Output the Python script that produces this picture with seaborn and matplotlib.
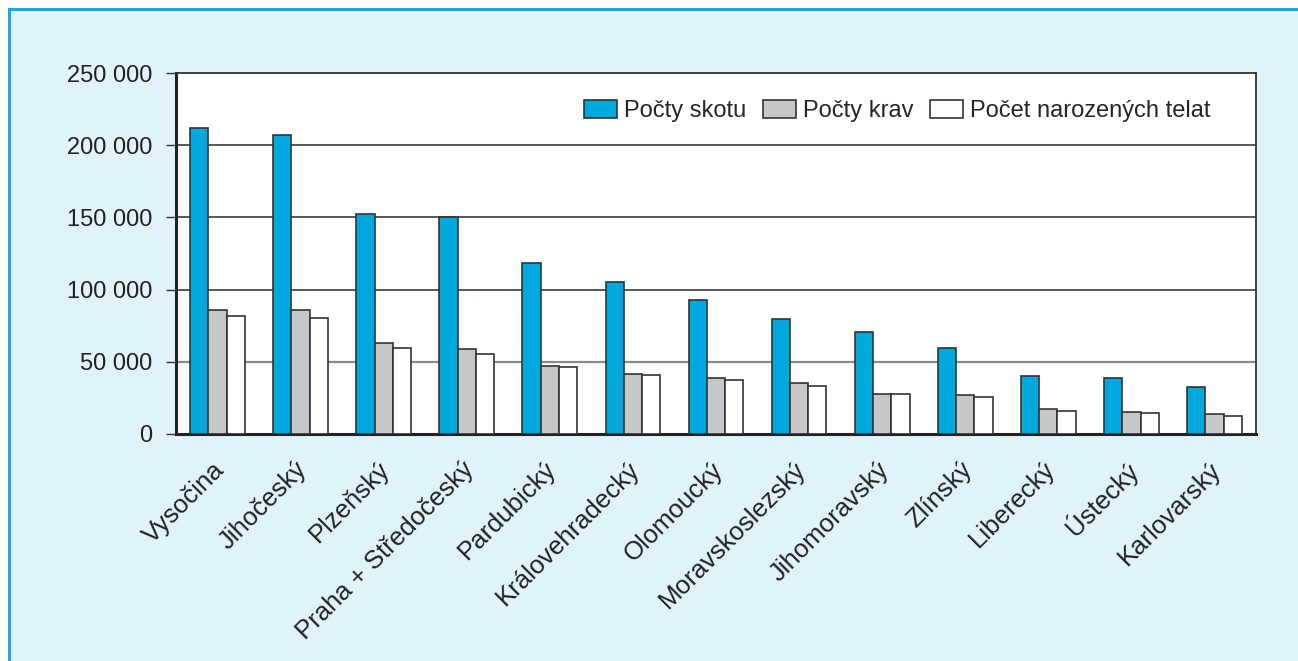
import pandas as pd
import matplotlib.pyplot as plt
import matplotlib.transforms as mtransforms
import seaborn as sns
from matplotlib.patches import Rectangle
from matplotlib.ticker import FuncFormatter

# 数据
kraje = ['Vysočina', 'Jihočeský', 'Plzeňský', 'Praha + Středočeský', 'Pardubický',
         'Královehradecký', 'Olomoucký', 'Moravskoslezský', 'Jihomoravský',
         'Zlínský', 'Liberecký', 'Ústecký', 'Karlovarský']
skot = [212100, 207300, 152600, 150500, 118600, 105000, 93000, 79900, 70900,
        59800, 40400, 39000, 32800]
krav = [85700, 86100, 63000, 58600, 46900, 41800, 38800, 35100, 27700,
        27000, 17500, 15400, 14100]
telata = [81500, 80100, 59300, 55600, 46400, 40900, 37600, 33500, 27700,
          25600, 16100, 14300, 12700]
serie = ['Počty skotu', 'Počty krav', 'Počet narozených telat']
barvy = ['#00a9dd', '#c6c7c9', '#ffffff']

df = pd.DataFrame({'kraj': kraje * 3,
                   'serie': [serie[0]] * 13 + [serie[1]] * 13 + [serie[2]] * 13,
                   'hodnota': skot + krav + telata})

sns.set_theme(style='white')
plt.rcParams['font.family'] = ['Liberation Sans', 'DejaVu Sans']

fig = plt.figure(figsize=(12.98, 6.61), dpi=100)
fig.patch.set_facecolor('white')
# light blue panel with blue border on top / left
fig.patches.append(Rectangle((9 / 1298, -0.02), 1.05, 1 - 9 / 661 + 0.02,
                             transform=fig.transFigure, facecolor='#e0f2fa',
                             edgecolor='#1aa8e0', linewidth=2.2, zorder=-10))

ax = fig.add_axes([176 / 1298, 1 - 434 / 661, 1080 / 1298, 361 / 661])
ax.set_facecolor('white')

sns.barplot(data=df, x='kraj', y='hodnota', hue='serie', palette=barvy,
            saturation=1, width=0.66, edgecolor='#333333', linewidth=1.2, gap=0,
            ax=ax, zorder=3)

ax.set_ylim(0, 250000)
ax.set_yticks([0, 50000, 100000, 150000, 200000, 250000])
ax.yaxis.set_major_formatter(FuncFormatter(lambda v, p: f'{int(v):,}'.replace(',', ' ')))
for y in [100000, 150000, 200000]:
    ax.axhline(y, color='#2a2a2a', linewidth=1.1, zorder=1)
ax.axhline(50000, color='#8a8a8a', linewidth=1.6, zorder=1)

ax.set_xlabel('')
ax.set_ylabel('')
ax.tick_params(axis='y', which='both', left=True, length=7, width=1, color='#333333',
               labelsize=17, labelcolor='#222222', pad=10)
ax.tick_params(axis='x', bottom=False, labelsize=18.5, labelcolor='#222222', pad=17)
posun = mtransforms.ScaledTranslation(3 / 100, 0, fig.dpi_scale_trans)
for lab in ax.get_xticklabels():
    lab.set_rotation(45)
    lab.set_ha('right')
    lab.set_va('center')
    lab.set_rotation_mode('anchor')
    lab.set_transform(lab.get_transform() + posun)

for s in ['left', 'bottom']:
    ax.spines[s].set_linewidth(2.2)
    ax.spines[s].set_color('#222222')
for s in ['top', 'right']:
    ax.spines[s].set_linewidth(1.3)
    ax.spines[s].set_color('#333333')

leg = ax.legend(loc='upper right', bbox_to_anchor=(0.973, 0.97), ncol=3, frameon=False,
                fontsize=17, handlelength=1.4, handleheight=0.75, handletextpad=0.3,
                columnspacing=0.7, borderaxespad=0.3)
for h in leg.legend_handles:
    h.set_edgecolor('#333333')
    h.set_linewidth(1.2)

plt.savefig('out.png', dpi=100)
